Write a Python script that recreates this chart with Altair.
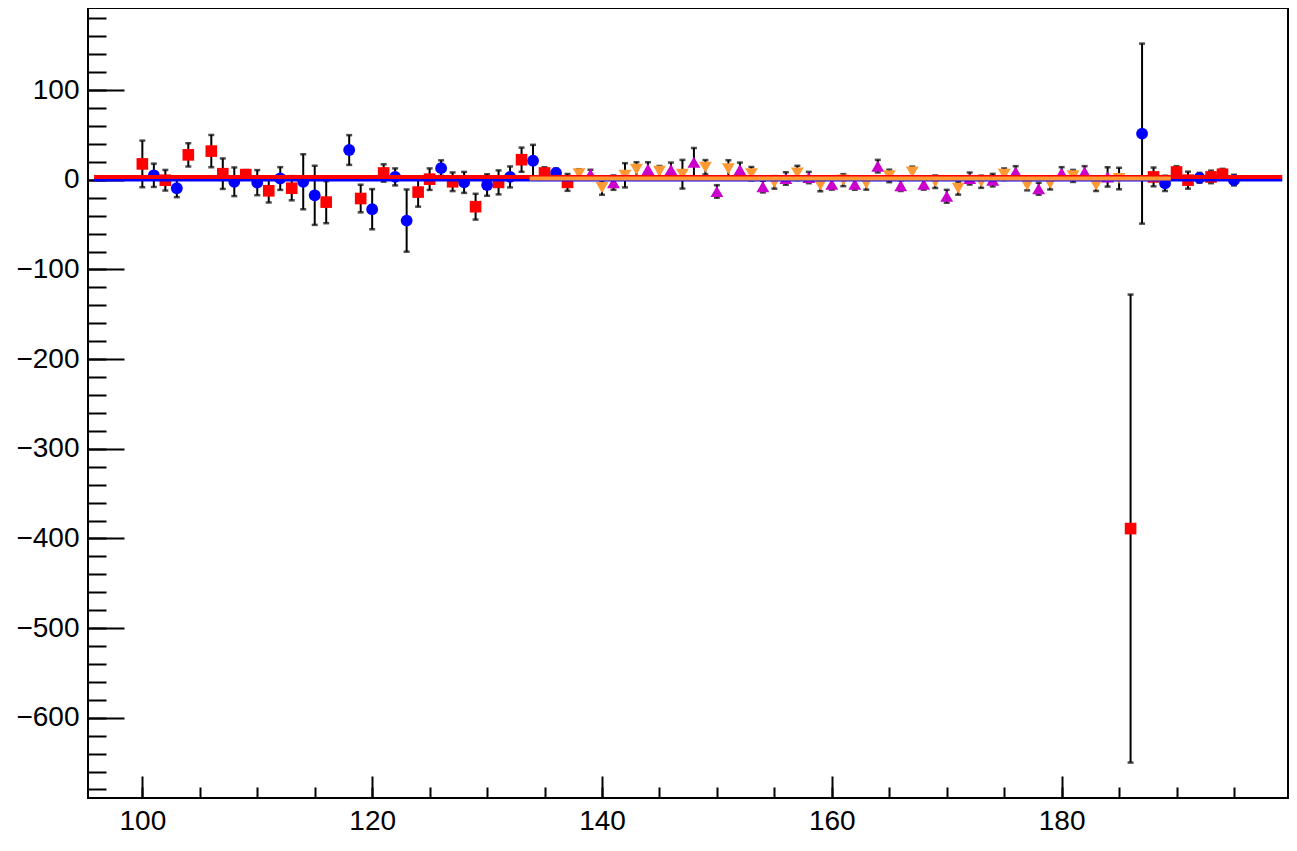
import altair as alt
import pandas as pd

# ---- data ----
red_x = [100, 102, 104, 106, 107, 109, 111, 113, 116, 119, 121, 124, 125, 127, 129,
         131, 133, 135, 137, 186, 188, 190, 191, 193, 194]
red_y = [17.7, -0.5, 27.8, 32.0, 6.8, 5.8, -12.3, -9.4, -24.9, -20.9, 7.6, -13.7, 0.7,
         -2.2, -30.0, -2.9, 22.4, 7.6, -2.9, -389.0, 3.2, 8.7, -0.4, 3.2, 6.2]
red_e = [26, 11.5, 13, 18, 17, 5, 13, 13.5, 23.5, 15.4, 9.7, 16.3, 12, 10.4, 14.4,
         13.4, 13.5, 6.4, 9.4, 261, 10.5, 6.5, 9.5, 7, 6]

blue_x = [101, 103, 108, 110, 112, 114, 115, 118, 120, 122, 123, 126, 128, 130, 132,
          134, 136, 187, 189, 192, 195]
blue_y = [5.0, -9.4, -2.2, -3.2, 1.4, -2.2, -17.3, 33.2, -32.8, 3.2, -45.5, 13.0, -2.9,
          -5.8, 3.2, 21.3, 7.6, 51.5, -4.0, 2.2, -0.4]
blue_e = [13, 10, 16, 14, 12.7, 30.7, 33, 16.6, 22.4, 9.5, 34.7, 8.7, 11.7, 12, 11.7,
          17.7, 5, 100.4, 8.5, 5.5, 6]

mag_x = [139, 141, 144, 146, 148, 150, 152, 154, 156, 158, 160, 162, 164, 166, 168,
         170, 172, 174, 176, 178, 180, 182, 184]
mag_y = [6.2, -3.2, 11.6, 11.2, 19.5, -13.0, 11.2, -7.6, 1.4, 2.5, -5.0, -4.8, 15.2,
         -6.5, -5.0, -18.4, 1.4, -0.4, 8.7, -10.0, 7.6, 8.7, 3.2]
mag_e = [5, 8, 8, 8, 16, 7, 8, 6.5, 7, 6.3, 6, 6.3, 7, 6, 6, 7.2, 6.7, 7, 6.5, 6.7,
         6.5, 6.5, 10.8]

org_x = [138, 140, 142, 143, 145, 147, 149, 151, 153, 155, 157, 159, 161, 163, 165,
         167, 169, 171, 173, 175, 177, 179, 181, 183, 185]
org_y = [6.8, -8.7, 5.0, 11.6, 9.4, 6.2, 14.0, 12.3, 6.8, -2.9, 7.6, -5.8, -0.4, -4.0,
         4.3, 8.7, -2.2, -9.4, -2.2, 6.2, -5.8, -4.0, 4.3, -5.8, 1.4]
org_e = [5, 8, 13.5, 8, 6, 16, 8, 9.5, 7.5, 7, 8, 7, 6.7, 7, 7, 6, 7, 7.2, 6.8, 6.5,
         6, 6.8, 6.7, 6.7, 12]

# constant fit lines
fit_series = ["blue", "red", "orange"]
fit_x0 = [95.8, 95.8, 133.7]
fit_x1 = [199.2, 199.2, 189.5]
fit_y = [-0.3, 3.0, 1.3]

x_domain = [95.27, 199.7]
y_domain = [-689.5, 191.6]
x_major_ticks = [100, 120, 140, 160, 180]
x_minor_ticks = list(range(100, 200, 5))
y_major_ticks = [-600, -500, -400, -300, -200, -100, 0, 100]
y_minor_ticks = list(range(-680, 200, 20))

# ---- tables ----
def table(xs, ys, es, name):
    return pd.DataFrame({"x": xs, "y": ys, "e": es, "series": name})

red_df = table(red_x, red_y, red_e, "red")
blue_df = table(blue_x, blue_y, blue_e, "blue")
mag_df = table(mag_x, mag_y, mag_e, "magenta")
org_df = table(org_x, org_y, org_e, "orange")
all_df = pd.concat([blue_df, red_df, mag_df, org_df], ignore_index=True)
fit_df = pd.DataFrame({"series": fit_series, "x0": fit_x0, "x1": fit_x1, "y": fit_y})

FONT = "Liberation Sans"
xs = alt.Scale(domain=x_domain, nice=False, zero=False)
ys = alt.Scale(domain=y_domain, nice=False, zero=False)

x_major = alt.Axis(values=x_major_ticks, orient="bottom", tickSize=22, offset=-22,
                   domain=False, grid=False, labelFont=FONT, labelFontSize=28,
                   labelColor="black", labelPadding=9, tickColor="black",
                   tickWidth=2, title=None, labelFlush=False, labelOverlap=False)
x_minor = alt.Axis(values=x_minor_ticks, orient="bottom", tickSize=11, offset=-11,
                   domain=False, grid=False, labels=False, tickColor="black",
                   tickWidth=2, title=None)
y_major = alt.Axis(values=y_major_ticks, orient="left", tickSize=36, offset=-36,
                   domain=False, grid=False, labelFont=FONT, labelFontSize=28,
                   labelColor="black", labelPadding=9, tickColor="black",
                   tickWidth=2, title=None, labelFlush=False, labelOverlap=False)
y_minor = alt.Axis(values=y_minor_ticks, orient="left", tickSize=18, offset=-18,
                   domain=False, grid=False, labels=False, tickColor="black",
                   tickWidth=2, title=None)

base = alt.Chart(all_df).transform_calculate(
    lo="datum.y - datum.e", hi="datum.y + datum.e"
)

# error bars (carry the major axes)
bars = base.mark_rule(color="black", strokeWidth=2).encode(
    x=alt.X("x:Q", scale=xs, axis=x_major),
    y=alt.Y("lo:Q", scale=ys, axis=y_major),
    y2="hi:Q",
)
# invisible layer carrying the minor ticks
minor = base.mark_point(opacity=0).encode(
    x=alt.X("x:Q", scale=xs, axis=x_minor),
    y=alt.Y("y:Q", scale=ys, axis=y_minor),
)
caps = base.transform_fold(["lo", "hi"], as_=["end", "v"]).mark_tick(
    color="black", orient="horizontal", size=6, thickness=2.5
).encode(
    x=alt.X("x:Q", scale=xs, axis=None),
    y=alt.Y("v:Q", scale=ys, axis=None),
)

def markers(df, shape, color, size):
    return alt.Chart(df).mark_point(
        shape=shape, filled=True, color=color, opacity=1, size=size, strokeWidth=0
    ).encode(
        x=alt.X("x:Q", scale=xs, axis=None),
        y=alt.Y("y:Q", scale=ys, axis=None),
    )

m_blue = markers(blue_df, "circle", "#0000ff", 140)
m_red = markers(red_df, "square", "#ff0000", 135)
m_mag = markers(mag_df, "triangle-up", "#cc00cc", 165)
m_org = markers(org_df, "triangle-down", "#ff9933", 165)

def fit(name, color, width):
    return alt.Chart(fit_df).transform_filter(
        alt.datum.series == name
    ).mark_rule(color=color, strokeWidth=width).encode(
        x=alt.X("x0:Q", scale=xs, axis=None),
        x2="x1:Q",
        y=alt.Y("y:Q", scale=ys, axis=None),
    )

f_blue = fit("blue", "#0000ff", 3)
f_red = fit("red", "#ff0000", 4)
f_org = fit("orange", "#ff9933", 4)

chart = alt.layer(
    bars, minor, caps, m_blue, m_red, m_mag, m_org, f_blue, f_red, f_org
).resolve_axis(x="independent", y="independent").properties(
    width=1200, height=790,
    autosize=alt.AutoSizeParams(type="none"),
    padding={"left": 80, "top": 0, "right": 1, "bottom": 39},
    background="white",
).configure_view(stroke="black", strokeWidth=2)

chart.save("out.html", embed_options={"renderer": "svg", "actions": False})
